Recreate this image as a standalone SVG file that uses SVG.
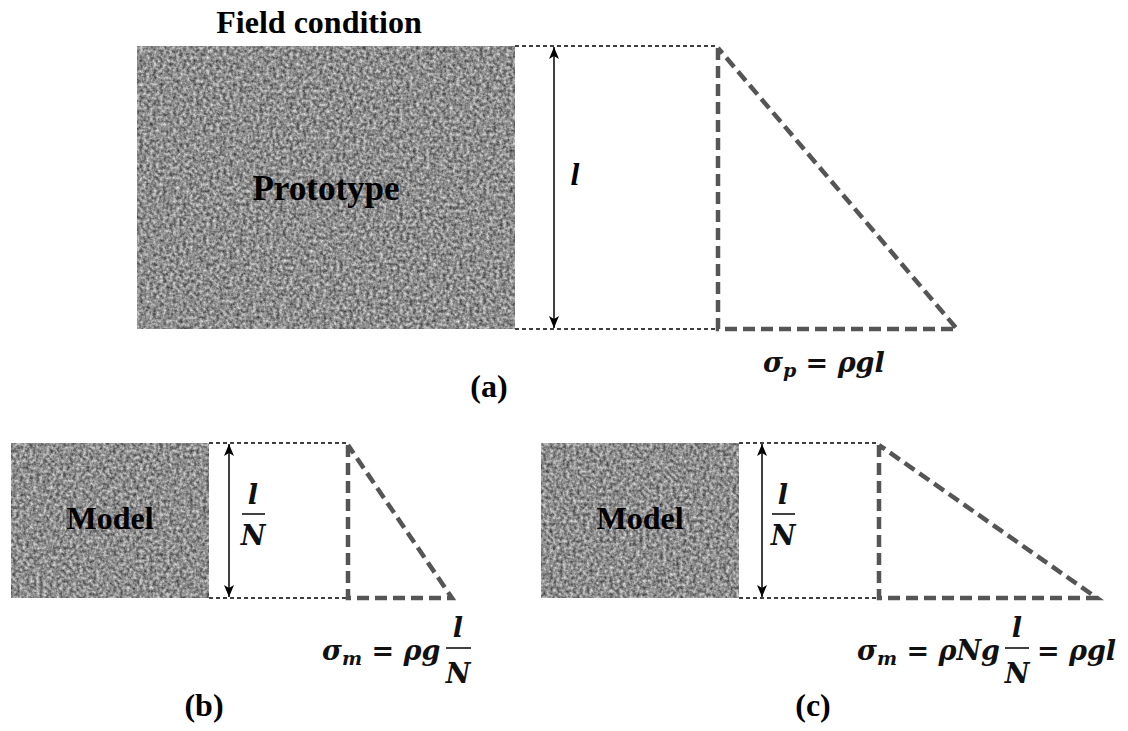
<svg xmlns="http://www.w3.org/2000/svg" width="1128" height="731" viewBox="0 0 1128 731">
<style>
.lbl{font-family:"Liberation Serif",serif;font-weight:bold;fill:#000}
.math{font-family:"DejaVu Serif",serif;font-weight:bold;font-style:italic;fill:#111}
.thin{stroke:#000;stroke-width:1.3;stroke-dasharray:4 3;fill:none}
.thick{stroke:#555;stroke-width:4.5;stroke-dasharray:12 6;fill:none}
.dim{stroke:#000;stroke-width:1.5;fill:none}
.bar{stroke:#111;stroke-width:1.6}
</style>
<defs>
<filter id="noise" x="0" y="0" width="100%" height="100%" color-interpolation-filters="sRGB">
<feTurbulence type="fractalNoise" baseFrequency="0.3" numOctaves="3" seed="3" result="n"/>
<feColorMatrix in="n" type="matrix" values="0.85 0 0 0 0.13  0.85 0 0 0 0.13  0.85 0 0 0 0.13  0 0 0 0 1" result="g"/>
<feComposite in="g" in2="SourceGraphic" operator="in"/>
</filter>
<marker id="ah" viewBox="0 0 12 10" refX="12" refY="5" markerWidth="12" markerHeight="10" markerUnits="userSpaceOnUse" orient="auto-start-reverse">
<path d="M0,0 L12,5 L0,10 L3,5 Z" fill="#000"/>
</marker>
</defs>
<rect width="1128" height="731" fill="#fff"/>

<text id="title" class="lbl" x="319" y="33" font-size="32" text-anchor="middle">Field condition</text>
<g id="prototype">
<rect x="137" y="46" width="378" height="283" fill="#888" filter="url(#noise)"/>
<text class="lbl" x="326" y="200" font-size="35" text-anchor="middle">Prototype</text>
</g>

<g id="model-b">
<rect x="11" y="443" width="198" height="155" fill="#888" filter="url(#noise)"/>
<text class="lbl" x="110" y="529" font-size="32" text-anchor="middle">Model</text>
</g>
<g id="model-c">
<rect x="541" y="443" width="198" height="155" fill="#888" filter="url(#noise)"/>
<text class="lbl" x="640" y="529" font-size="32" text-anchor="middle">Model</text>
</g>

<g id="connectors">
<path class="thin" d="M515,46 H718 M515,329 H718"/>
<path class="dim" d="M554,47 V328" marker-start="url(#ah)" marker-end="url(#ah)"/>
<path class="thick" d="M718,48 V329 H957 L718,48"/>
<path class="thin" d="M209,443 H348 M209,598 H348"/>
<path class="dim" d="M229,444 V597" marker-start="url(#ah)" marker-end="url(#ah)"/>
<path class="thick" d="M348,445 V598 H452 L348,445"/>
<path class="thin" d="M739,443 H879 M739,598 H879"/>
<path class="dim" d="M762,444 V597" marker-start="url(#ah)" marker-end="url(#ah)"/>
<path class="thick" d="M879,445 V598 H1097 L879,445"/>
</g>

<g id="labels">
<text x="575" y="185" font-family="Liberation Serif,serif" font-weight="bold" font-style="italic" font-size="32" text-anchor="middle">l</text>
<text class="math" x="763" y="372" font-size="27">σ<tspan font-size="19" dy="5">p</tspan><tspan dy="-5"> = ρgl</tspan></text>
<text class="lbl" x="489" y="397" font-size="32" text-anchor="middle">(a)</text>

<text class="math" x="253" y="504" font-size="27" text-anchor="middle">l</text>
<line class="bar" x1="242" y1="514" x2="265" y2="514"/>
<text class="math" x="253" y="545" font-size="27" text-anchor="middle">N</text>
<text class="math" x="322" y="660" font-size="27">σ<tspan font-size="19" dy="5">m</tspan><tspan dy="-5"> = ρg</tspan></text>
<text class="math" x="458" y="637" font-size="27" text-anchor="middle">l</text>
<line class="bar" x1="446" y1="648" x2="471" y2="648"/>
<text class="math" x="458" y="683" font-size="27" text-anchor="middle">N</text>
<text class="lbl" x="204" y="716" font-size="32" text-anchor="middle">(b)</text>

<text class="math" x="783" y="504" font-size="27" text-anchor="middle">l</text>
<line class="bar" x1="772" y1="514" x2="795" y2="514"/>
<text class="math" x="783" y="545" font-size="27" text-anchor="middle">N</text>
<text class="math" x="857" y="660" font-size="27">σ<tspan font-size="19" dy="5">m</tspan><tspan dy="-5"> = ρNg</tspan></text>
<text class="math" x="1017" y="637" font-size="27" text-anchor="middle">l</text>
<line class="bar" x1="1005" y1="648" x2="1029" y2="648"/>
<text class="math" x="1017" y="683" font-size="27" text-anchor="middle">N</text>
<text class="math" x="1037" y="660" font-size="27">= ρgl</text>
<text class="lbl" x="813" y="716" font-size="32" text-anchor="middle">(c)</text>
</g>
</svg>
